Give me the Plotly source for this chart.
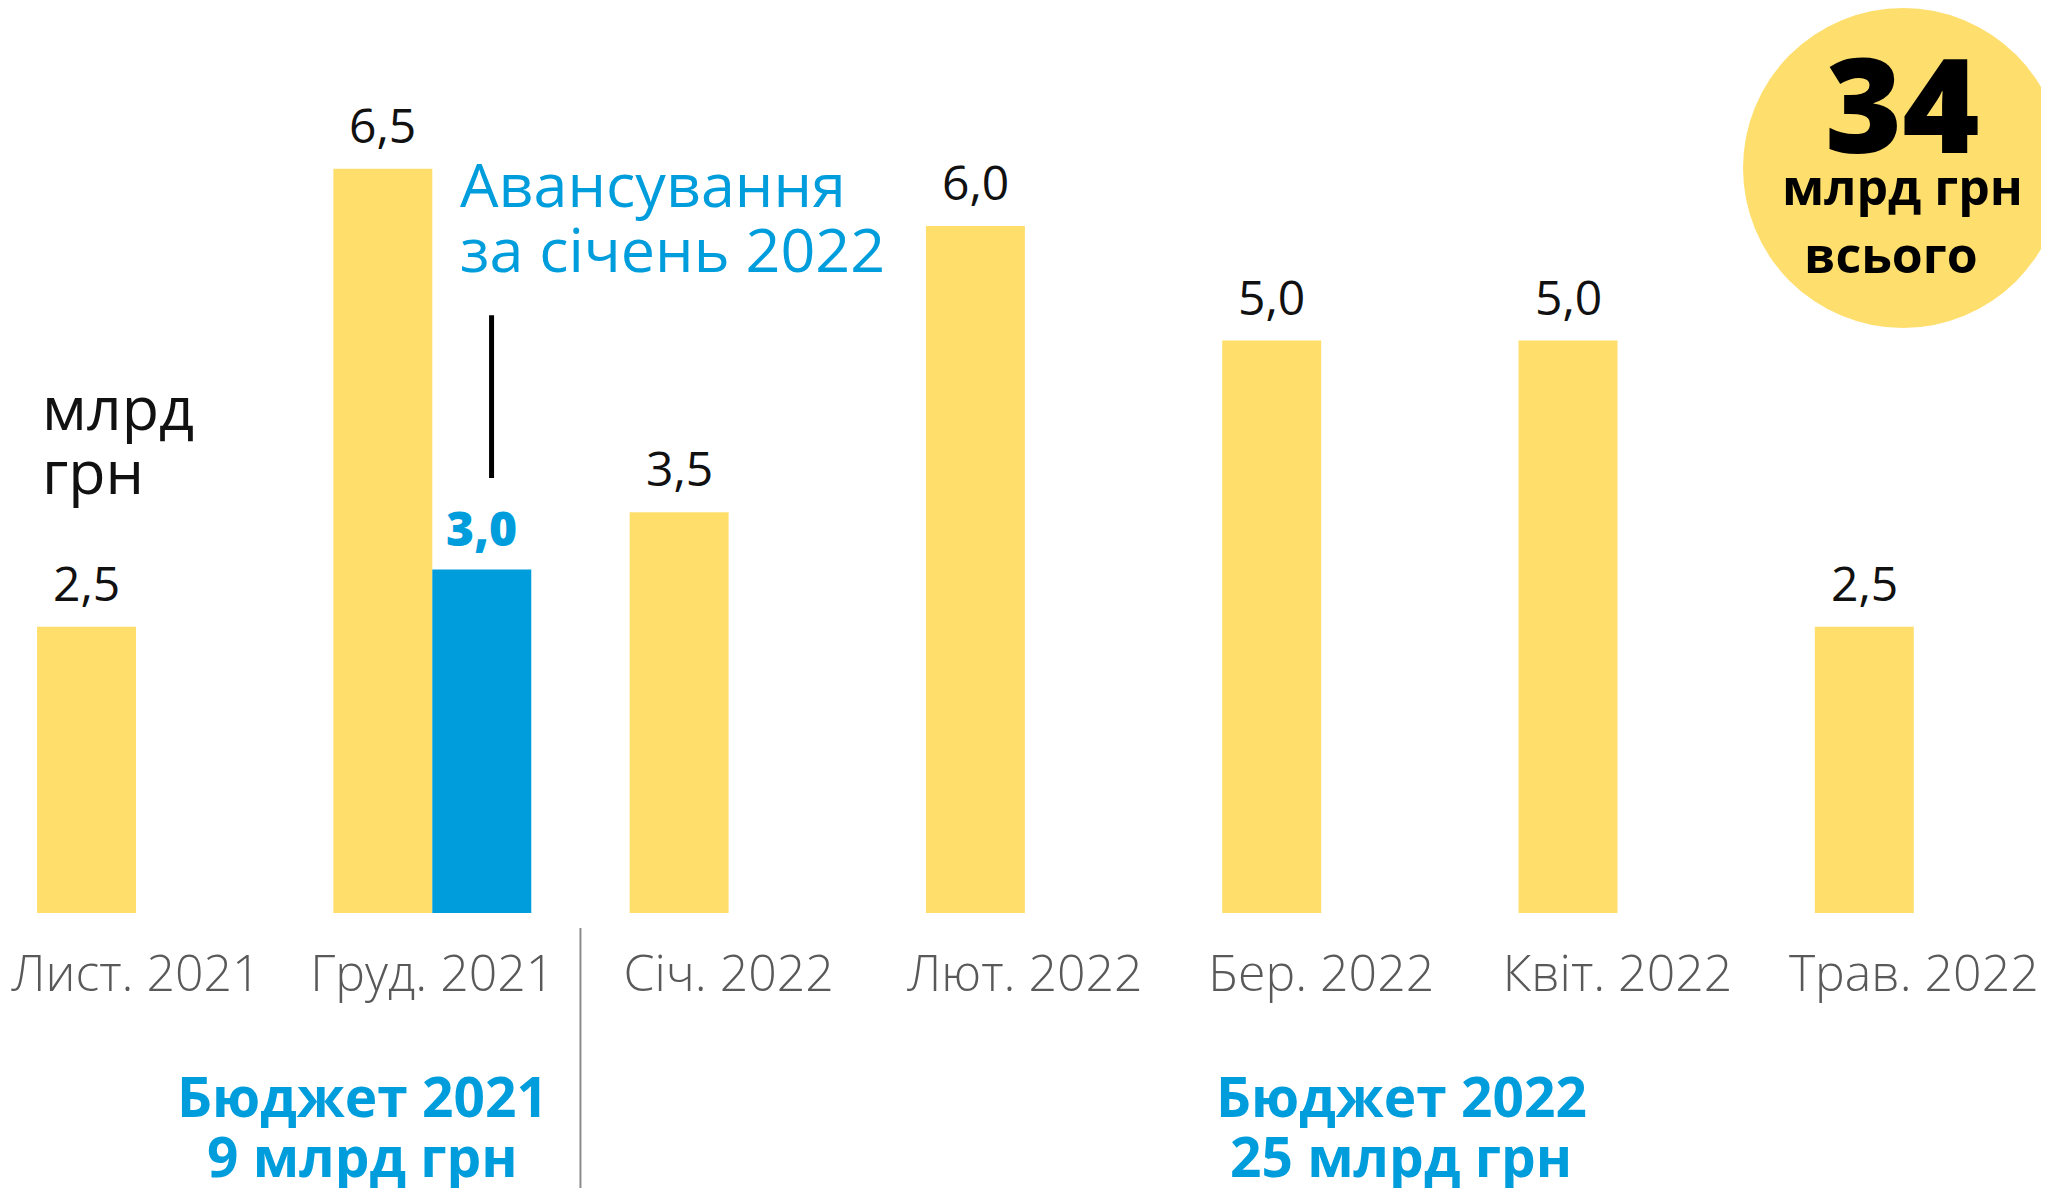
import plotly.graph_objects as go

# дані
months = ["Лист. 2021", "Груд. 2021", "Січ. 2022", "Лют. 2022",
          "Бер. 2022", "Квіт. 2022", "Трав. 2022"]
budget_values = [2.5, 6.5, 3.5, 6.0, 5.0, 5.0, 2.5]
advance_values = [None, 3.0, None, None, None, None, None]

total_text = "34"
unit_text = "млрд грн"
budget_2021 = ["Бюджет 2021", "9 млрд грн"]
budget_2022 = ["Бюджет 2022", "25 млрд грн"]
advance_note = ["Авансування", "за січень 2022"]

YELLOW = "#FFDE6B"
BLUE = "#009DDC"
FONT = "Open Sans"

# сторінка має відступ body 8px
OFF = 8
W, H = 2049 - OFF, 1188 - OFF
BOTTOM = 275
PLOT_H = H - BOTTOM
PX_PER_UNIT = 114.5
CAT_PX = 296.3
FIRST_CAT = 136 - OFF


def fmt(v):
    return f"{v:.1f}".replace(".", ",")


def px(page_x):
    return (page_x - OFF) / W


def py(page_y):
    return (PLOT_H - (page_y - OFF)) / PLOT_H


fig = go.Figure()

fig.add_trace(go.Bar(x=months, y=budget_values, marker_color=YELLOW,
                     marker_line_width=0, hoverinfo="skip"))
fig.add_trace(go.Bar(x=months, y=advance_values, marker_color=BLUE,
                     marker_line_width=0, hoverinfo="skip"))

annotations = []

# підписи значень над стовпцями
for m, v in zip(months, budget_values):
    annotations.append(dict(x=m, y=v, xref="x", yref="y", text=fmt(v),
                            showarrow=False, yanchor="bottom", xshift=-49.5, yshift=10,
                            font=dict(family=FONT, size=48, color="#111111", weight=400)))
for m, v in zip(months, advance_values):
    if v is None:
        continue
    annotations.append(dict(x=m, y=v, xref="x", yref="y", text=fmt(v),
                            showarrow=False, yanchor="bottom", xshift=49.5, yshift=8,
                            font=dict(family=FONT, size=48, color=BLUE, weight=800)))

# одиниці зліва
annotations.append(dict(x=px(40), y=py(407), xref="paper", yref="paper", text="млрд",
                        showarrow=False, xanchor="left", yanchor="middle",
                        font=dict(family=FONT, size=61, color="#111111")))
annotations.append(dict(x=px(40), y=py(470), xref="paper", yref="paper", text="грн",
                        showarrow=False, xanchor="left", yanchor="middle",
                        font=dict(family=FONT, size=61, color="#111111")))

# авансування
for txt, yy in zip(advance_note, [184, 248]):
    annotations.append(dict(x=px(458), y=py(yy), xref="paper", yref="paper", text=txt,
                            showarrow=False, xanchor="left", yanchor="middle",
                            font=dict(family=FONT, size=61, color=BLUE)))

# бюджети
for lines, cx in [(budget_2021, 362), (budget_2022, 1401)]:
    for txt, yy in zip(lines, [1095, 1155]):
        annotations.append(dict(x=px(cx), y=py(yy), xref="paper", yref="paper", text=txt,
                                showarrow=False, xanchor="center", yanchor="middle",
                                font=dict(family=FONT, size=55, color=BLUE, weight=700)))

# коло з підсумком
annotations.append(dict(x=px(1902), y=py(102), xref="paper", yref="paper", text=total_text,
                        showarrow=False, xanchor="center", yanchor="middle",
                        font=dict(family=FONT, size=132, color="#000000", weight=800)))
annotations.append(dict(x=px(1902), y=py(186), xref="paper", yref="paper", text=unit_text,
                        showarrow=False, xanchor="center", yanchor="middle",
                        font=dict(family=FONT, size=50, color="#000000", weight=700)))
annotations.append(dict(x=px(1891), y=py(254), xref="paper", yref="paper", text="всього",
                        showarrow=False, xanchor="center", yanchor="middle",
                        font=dict(family=FONT, size=50, color="#000000", weight=700)))

shapes = [
    dict(type="circle", xref="paper", yref="paper", layer="below",
         x0=px(1743), x1=px(2063), y0=py(328), y1=py(8),
         fillcolor="#FEDF6E", line_width=0),
    # вертикальна риска над авансом
    dict(type="line", xref="x", yref="y", x0=1.2, x1=1.2, y0=3.8, y1=5.22,
         line=dict(color="#000000", width=5)),
    # розділювач бюджетів
    dict(type="line", xref="x", yref="paper", x0=1.5, x1=1.5, y0=py(928), y1=py(1200),
         line=dict(color="#8C8C8C", width=2)),
]

fig.update_layout(
    width=W, height=H,
    margin=dict(l=0, r=0, t=0, b=BOTTOM, pad=0),
    paper_bgcolor="white", plot_bgcolor="white",
    barmode="group", bargap=0.332, bargroupgap=0,
    showlegend=False,
    xaxis=dict(type="category", range=[-FIRST_CAT / CAT_PX, (W - FIRST_CAT) / CAT_PX],
               showgrid=False, zeroline=False,
               showline=False, ticks="outside", ticklen=17, tickcolor="rgba(0,0,0,0)",
               tickfont=dict(family=FONT, size=50, color="#595959", weight=300)),
    yaxis=dict(range=[0, PLOT_H / PX_PER_UNIT], visible=False),
    annotations=annotations,
    shapes=shapes,
)

fig.write_html("out.html")
